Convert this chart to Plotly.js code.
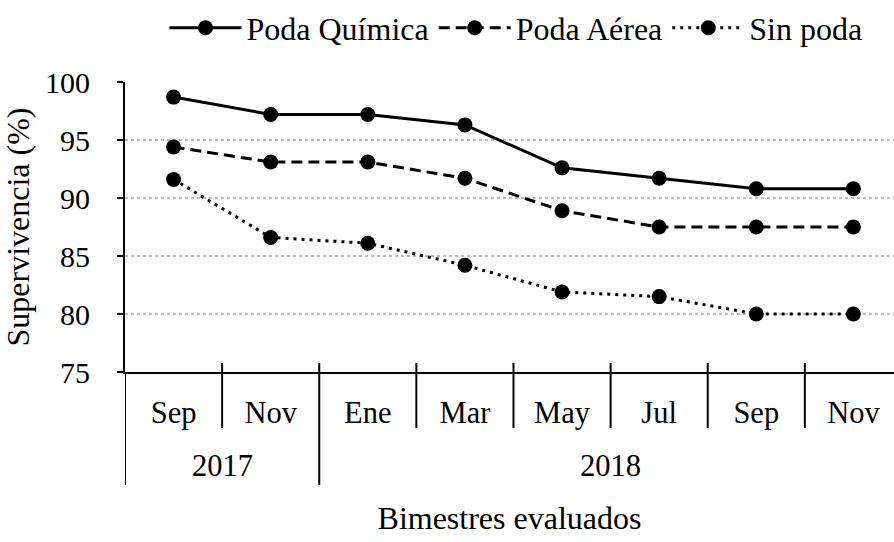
<!DOCTYPE html>
<html>
<head>
<meta charset="utf-8">
<script src="https://cdn.plot.ly/plotly-3.0.1.min.js"></script>
<style>html,body{margin:0;padding:0;background:#fff;}#chart{width:894px;height:542px;}</style>
</head>
<body>
<div id="chart"></div>
<script>
const years = ['2017','2017','2018','2018','2018','2018','2018','2018'];
const months = ['Sep','Nov','Ene','Mar','May','Jul','Sep','Nov'];
const podaQuimica = [98.7, 97.2, 97.2, 96.3, 92.6, 91.7, 90.8, 90.8];
const podaAerea = [94.4, 93.1, 93.1, 91.7, 88.9, 87.5, 87.5, 87.5];
const sinPoda = [91.6, 86.6, 86.1, 84.2, 81.9, 81.5, 80.0, 80.0];
const yTicks = [75, 80, 85, 90, 95, 100];

const keys = months.map((m, i) => m + ' ' + years[i]);
const font = "'Liberation Serif', 'Times New Roman', serif";
const FS = 30.5;
const FT = 32;

function tr(name, y, dash, width) {
  return {
    x: keys, y: y, name: name, type: 'scatter', mode: 'lines+markers',
    line: {color: '#000', width: width, dash: dash},
    marker: {color: '#000', size: 15, symbol: 'circle'}
  };
}
const data = [
  tr('Poda Química', podaQuimica, 'solid', 3),
  tr('Poda Aérea', podaAerea, '11px,6px', 3),
  tr('Sin poda', sinPoda, '3px,5px', 3)
];

// category separators and year groups (axis decoration, derived from the category arrays)
const shapes = [];
const annotations = [];
const axTop = 9 / 290, monthBottom = -56 / 290, yearBottom = -113 / 290;
for (let i = 0; i < keys.length - 1; i++) {
  const yearBreak = years[i] !== years[i + 1];
  shapes.push({type: 'line', xref: 'x', yref: 'paper', x0: i + 0.5, x1: i + 0.5,
    y0: yearBreak ? yearBottom : monthBottom, y1: axTop, line: {color: '#000', width: 2}});
}
shapes.push({type: 'line', xref: 'x', yref: 'paper', x0: -0.5, x1: -0.5, y0: yearBottom, y1: 0,
  line: {color: '#000', width: 2}});
const groups = [];
years.forEach((y, i) => {
  if (!groups.length || groups[groups.length - 1].y !== y) groups.push({y: y, s: i, e: i});
  else groups[groups.length - 1].e = i;
});
groups.forEach(g => {
  annotations.push({xref: 'x', yref: 'paper', x: (g.s + g.e) / 2, y: -94 / 290, text: g.y,
    showarrow: false, xanchor: 'center', yanchor: 'middle', font: {family: font, size: FS, color: '#000'}});
});

const layout = {
  width: 894, height: 542,
  margin: {l: 125, r: 0, t: 82, b: 170},
  paper_bgcolor: '#fff', plot_bgcolor: '#fff',
  font: {family: font, size: FS, color: '#000'},
  showlegend: true,
  legend: {orientation: 'h', xref: 'container', x: 516 / 894, xanchor: 'center',
           yref: 'container', y: 1 - 28 / 542, yanchor: 'middle',
           font: {family: font, size: FT, color: '#000'}, itemwidth: 72, tracegroupgap: 0},
  xaxis: {
    type: 'category',
    range: [-0.5, 7.418],
    tickmode: 'array', tickvals: keys, ticktext: months,
    showline: true, linecolor: '#000', linewidth: 2,
    ticks: '', ticklabelstandoff: 12,
    showgrid: false, zeroline: false,
    tickfont: {family: font, size: FS, color: '#000'},
    title: {text: 'Bimestres evaluados', font: {family: font, size: FT, color: '#000'}, standoff: 78}
  },
  yaxis: {
    range: [75, 100],
    tickmode: 'array', tickvals: yTicks,
    showline: true, linecolor: '#000', linewidth: 2,
    ticks: 'outside', ticklen: 6, tickcolor: '#000', tickwidth: 2,
    ticklabelstandoff: 21,
    showgrid: true, gridcolor: '#bdbdbd', griddash: 'dot', gridwidth: 1.5,
    zeroline: false,
    tickfont: {family: font, size: 30, color: '#000'},
    title: {text: 'Supervivencia (%)', font: {family: font, size: FT, color: '#000'}, standoff: 8}
  },
  shapes: shapes,
  annotations: annotations
};
Plotly.newPlot('chart', data, layout, {displayModeBar: false, staticPlot: true});
</script>
</body>
</html>
